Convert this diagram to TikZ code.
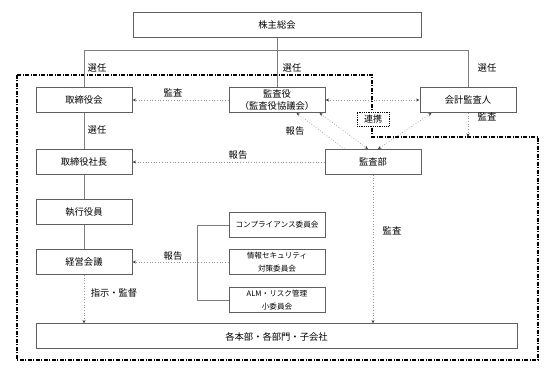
\documentclass[tikz,border=0pt]{standalone}
\usepackage{fontspec}
\setmainfont{Noto Sans CJK JP}
\usetikzlibrary{arrows.meta}
\definecolor{boxborder}{RGB}{95,95,95}
\definecolor{linegray}{RGB}{125,125,125}
\definecolor{dotgray}{RGB}{150,150,150}
\tikzset{
  box/.style      = {draw=boxborder, line width=1pt, fill=white, align=center,
                     font=\fontsize{9.3}{12.5}\selectfont, inner sep=1pt,
                     minimum width=96pt, minimum height=25pt},
  small/.style    = {font=\fontsize{7.6}{12.5}\selectfont},
  conn/.style     = {draw=linegray, line width=0.9pt},
  darr/.style     = {-{Stealth[length=3.5pt, width=3pt, color=black!75]}, dotted, line width=0.7pt, color=dotgray},
  ddarr/.style    = {{Stealth[length=3.5pt, width=3pt, color=black!75]}-{Stealth[length=3.5pt, width=3pt, color=black!75]},
                     dotted, line width=0.7pt, color=dotgray},
  boundary/.style = {draw=black, line width=1.2pt, dash pattern=on 4pt off 1.5pt on 1pt off 1.5pt},
}

\begin{document}
\begin{tikzpicture}[
  x=1pt, y=-1pt,
  lbl/.style={font=\fontsize{9.3}{10}\selectfont, inner sep=1pt},
  renkei/.style={draw=black, densely dotted, line width=0.8pt, fill=white,
                 font=\fontsize{9}{10}\selectfont, minimum width=32pt, minimum height=14pt, inner sep=1pt}
]
  \useasboundingbox (0,0) rectangle (555,374);

  % Boundary
  \draw[boundary] (17,75) -- (372,75) -- (372,137) -- (538,137) -- (538,360) -- (17,360) -- cycle;

  % Boxes
  \node[box, minimum width=288pt] (kabunushi) at (277,25) {株主総会};
  \node[box] (torishimari) at (84,100)  {取締役会};
  \node[box] (kansayaku)   at (277,100) {監査役\\（監査役協議会）};
  \node[box] (kaikei)      at (468,100) {会計監査人};
  \node[box] (shacho)      at (84,162)  {取締役社長};
  \node[box] (kansabu)     at (373,162) {監査部};
  \node[box] (shikko)      at (84,212)  {執行役員};
  \node[box] (keiei)       at (84,262)  {経営会議};
  \node[box, small] (compliance) at (277,225) {コンプライアンス委員会};
  \node[box, small] (johosec)    at (277,262) {情報セキュリティ\\対策委員会};
  \node[box, small] (alm)        at (277,300) {ALM・リスク管理\\小委員会};
  \node[box, minimum width=481pt] (kakubu) at (276.5,336.5) {各本部・各部門・子会社};
  \node[renkei] (renkei) at (373,119) {連携};

  % Solid lines
  \coordinate (senninL) at (84,50);
  \coordinate (senninR) at (468,50);
  \draw[conn] (torishimari.north) -- (senninL) -- (senninR) -- (kaikei.north);
  \draw[conn] (kabunushi.south) -- (kansayaku.north);
  \draw[conn] (torishimari) -- (shacho);
  \draw[conn] (shacho) -- (shikko);
  \draw[conn] (shikko) -- (keiei);
  \coordinate (brTop) at (197,225);
  \coordinate (brBot) at (197,300);
  \draw[conn] (compliance.west) -- (brTop) -- (brBot) -- (alm.west);

  % Dotted arrows
  \coordinate (kaikeiAudit) at (468,137);
  \draw[darr] (kansayaku) -- (torishimari);
  \draw[ddarr] (kansayaku) -- (kaikei);
  \draw[darr] (kansabu) -- (shacho);
  \draw[darr] ([xshift=20pt]kansabu.north west) -- ([xshift=-29pt]kansayaku.south east);
  \draw[ddarr] ([xshift=-6pt]kansayaku.south east) -- ([xshift=-5pt]kansabu.north);
  \draw[ddarr] ([xshift=12pt]kaikei.south west) -- ([xshift=5pt]kansabu.north);
  \draw[darr] (kaikei.south) -- (kaikeiAudit);
  \draw[darr] (kansabu) -- (kansabu |- kakubu.north);
  \draw[darr] (johosec) -- (keiei);
  \draw[darr] (keiei) -- (keiei |- kakubu.north);

  % Labels
  \node[lbl] (senninA) at (97,68)  {選任};
  \node[lbl] (senninB) at (292,68) {選任};
  \node[lbl] (senninC) at (487,68) {選任};
  \node[lbl] (senninD) at (97,130) {選任};
  \node[lbl] (kansaA)  at (173,93) {監査};
  \node[lbl] (kansaB)  at (487,117) {監査};
  \node[lbl] (kansaC)  at (392,231) {監査};
  \node[lbl] (hokokuA) at (295,131) {報告};
  \node[lbl] (hokokuB) at (238,155) {報告};
  \node[lbl] (hokokuC) at (173,256) {報告};
  \node[lbl] (shiji)   at (114,293) {指示・監督};
\end{tikzpicture}
\end{document}
